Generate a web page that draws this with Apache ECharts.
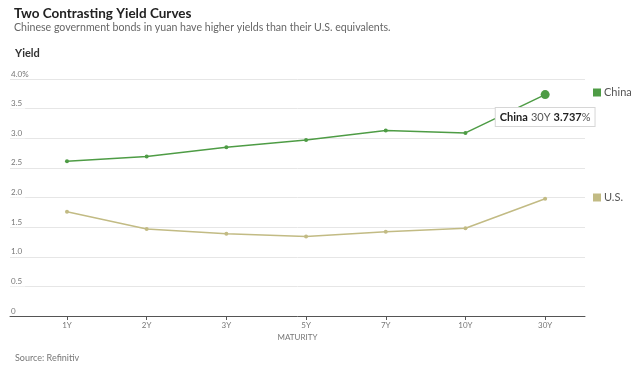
<!DOCTYPE html>
<html>
<head>
<meta charset="utf-8">
<script src="https://cdn.jsdelivr.net/npm/echarts@6/dist/echarts.min.js"></script>
<style>html,body{margin:0;padding:0;background:#fff}#c{width:640px;height:368px}</style>
</head>
<body>
<div id="c"></div>
<script>
var categories = ['1Y', '2Y', '3Y', '5Y', '7Y', '10Y', '30Y'];
var chinaYields = [2.61, 2.69, 2.85, 2.97, 3.13, 3.09, 3.737];
var usYields = [1.76, 1.47, 1.39, 1.34, 1.42, 1.48, 1.98];
var yTicks = [0, 0.5, 1, 1.5, 2, 2.5, 3, 3.5, 4];

var FONT = 'Lato, "Open Sans", sans-serif';
var GREEN = '#4e9c45';
var KHAKI = '#c2bb84';

function pairs(vals) {
  return vals.map(function (v, i) { return [i, v]; });
}
var chinaData = pairs(chinaYields);
var lastIdx = chinaData.length - 1;
chinaData[lastIdx] = {
  value: chinaData[lastIdx],
  symbolSize: 9,
  label: {
    show: true,
    position: 'bottom',
    distance: 9,
    backgroundColor: '#fff',
    borderColor: '#d6d6d6',
    borderWidth: 1,
    padding: [3, 4, 3, 4],
    formatter: function () {
      return '{a|China} {b|' + categories[lastIdx] + '} {a|' + chinaYields[lastIdx].toFixed(3) + '}{c|%}';
    },
    rich: {
      a: { fontFamily: FONT, fontWeight: 'bold', fontSize: 11, color: '#222' },
      b: { fontFamily: FONT, fontSize: 11, color: '#555' },
      c: { fontFamily: FONT, fontSize: 11, color: '#555' }
    }
  }
};

var chart = echarts.init(document.getElementById('c'), null, { renderer: 'canvas' });
chart.setOption({
  animation: false,
  backgroundColor: '#fff',
  textStyle: { fontFamily: FONT },
  title: [
    { text: 'Two Contrasting Yield Curves', left: 9, top: 2,
      textStyle: { fontFamily: FONT, fontSize: 13.5, fontWeight: 'bold', color: '#222' } },
    { text: 'Chinese government bonds in yuan have higher yields than their U.S. equivalents.', left: 9, top: 17,
      textStyle: { fontFamily: FONT, fontSize: 10.6, fontWeight: 'normal', color: '#666' } },
    { text: 'Yield', left: 10, top: 43,
      textStyle: { fontFamily: FONT, fontSize: 11, fontWeight: 'bold', color: '#333' } },
    { text: 'Source: Refinitiv', left: 10, top: 349,
      textStyle: { fontFamily: FONT, fontSize: 9, fontWeight: 'normal', color: '#777' } }
  ],
  legend: [
    { data: ['China'], left: 593, top: 87, padding: 0, orient: 'vertical', icon: 'rect', itemWidth: 8, itemHeight: 8, itemGap: 4,
      textStyle: { fontFamily: FONT, fontSize: 11, color: '#555', padding: [0, 0, 0, -2] } },
    { data: ['U.S.'], left: 593, top: 192, padding: 0, orient: 'vertical', icon: 'rect', itemWidth: 8, itemHeight: 8, itemGap: 4,
      textStyle: { fontFamily: FONT, fontSize: 11, color: '#555', padding: [0, 0, 0, -2] } }
  ],
  grid: { left: 10, right: 55, top: 79, bottom: 52 },
  xAxis: {
    type: 'value',
    min: -0.715,
    max: 6.5,
    name: 'MATURITY',
    nameLocation: 'middle',
    nameGap: 17,
    nameTextStyle: { fontFamily: FONT, fontSize: 8, color: '#777' },
    axisLine: { show: true, lineStyle: { color: '#555', width: 1 } },
    axisTick: { show: true, customValues: categories.map(function (c, i) { return i; }), length: 4, lineStyle: { color: '#555' } },
    splitLine: { show: false },
    axisLabel: {
      customValues: categories.map(function (c, i) { return i; }),
      formatter: function (v) { return categories[Math.round(v)]; },
      fontFamily: FONT, fontSize: 8, color: '#777', margin: 5
    }
  },
  yAxis: {
    type: 'value',
    min: 0,
    max: 4,
    interval: 0.5,
    axisLine: { show: false },
    axisTick: { show: false },
    splitLine: { lineStyle: { color: '#e6e6e6', width: 1 } },
    axisLabel: {
      inside: true,
      margin: 0,
      verticalAlign: 'bottom',
      fontFamily: FONT,
      fontSize: 8,
      color: '#777',
      backgroundColor: '#fff',
      padding: [0, 3, 1, 1],
      formatter: function (v) {
        if (v === yTicks[yTicks.length - 1]) return v.toFixed(1) + '%';
        if (v === 0) return '0';
        return v.toFixed(1);
      }
    }
  },
  series: [
    { name: 'China', type: 'line', data: chinaData, color: GREEN, symbol: 'circle', symbolSize: 4,
      lineStyle: { width: 1.5, color: GREEN }, itemStyle: { color: GREEN } },
    { name: 'U.S.', type: 'line', data: pairs(usYields), color: KHAKI, symbol: 'circle', symbolSize: 4,
      lineStyle: { width: 1.5, color: KHAKI }, itemStyle: { color: KHAKI } }
  ]
});
</script>
</body>
</html>
